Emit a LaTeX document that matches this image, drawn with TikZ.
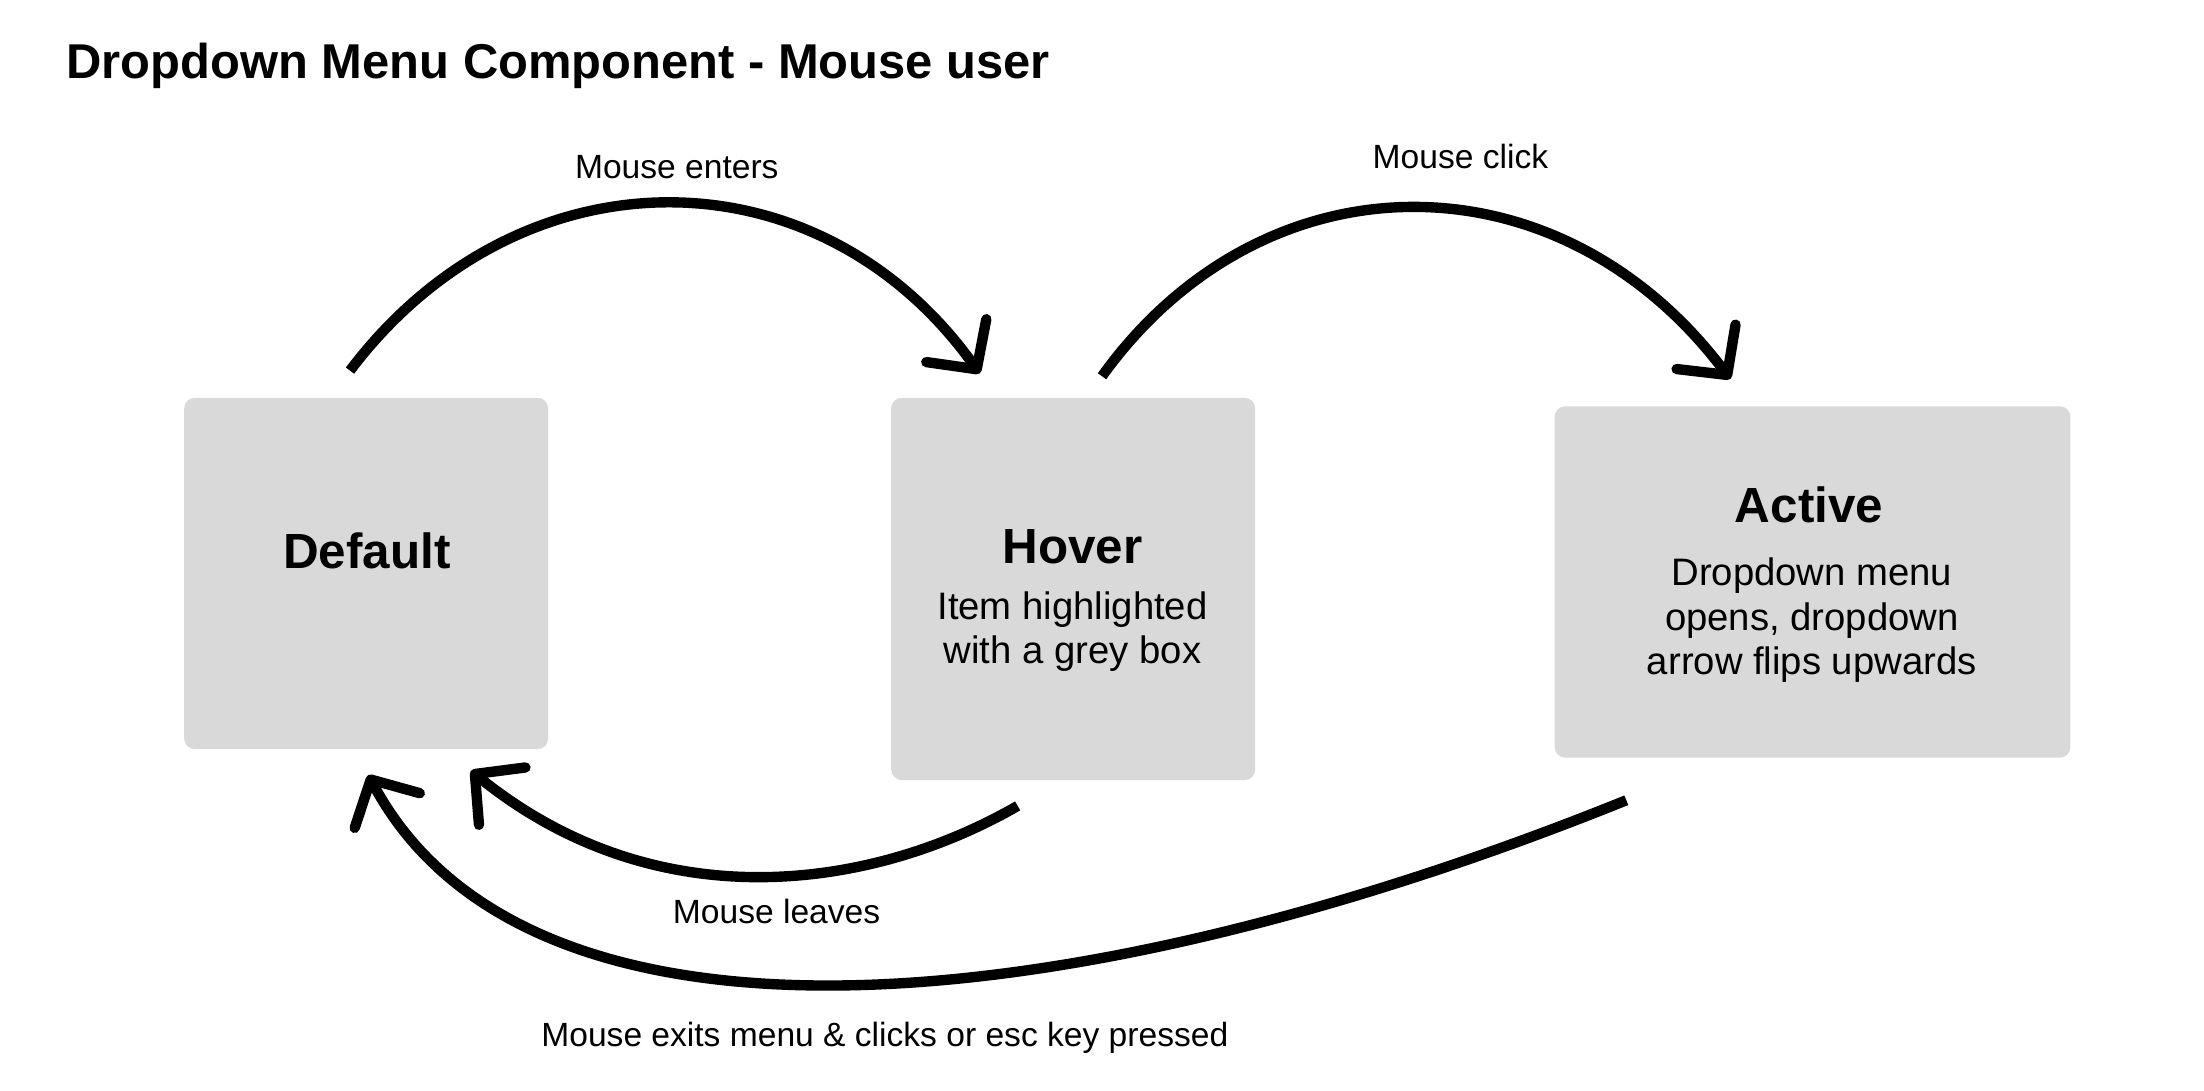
\documentclass[tikz,border=0pt]{standalone}
\usepackage{fontspec}
\setmainfont{Liberation Sans}
\usetikzlibrary{arrows.meta,calc,positioning}

\definecolor{boxgrey}{HTML}{D9D9D9}

\tikzset{
  state/.style={fill=boxgrey,rounded corners=0.15cm,inner sep=0pt},
  statename/.style={font=\fontsize{20}{24}\selectfont\bfseries,anchor=base,inner sep=0pt},
  statetext/.style={font=\fontsize{15.5}{17.9}\selectfont,align=center,anchor=base,inner sep=0pt},
  flowlabel/.style={font=\fontsize{13.6}{16}\selectfont,anchor=base,inner sep=0pt},
  flow/.style={line width=4.2pt,-{Straight Barb[length=0.5cm,width=1.05cm,round]}}
}

\begin{document}
\begin{tikzpicture}[x=0.02cm,y=-0.02cm]

\useasboundingbox (0,0) rectangle (1568,775.5);

\node[font=\fontsize{19.8}{24}\selectfont\bfseries,anchor=base west,inner sep=0pt]
   (title) at (47,55.5) {Dropdown Menu Component - Mouse user};

% states
\node[state,minimum width=5.18cm,minimum height=5.00cm] (default) at ( 260.5,408) {};
\node[state,minimum width=5.18cm,minimum height=5.44cm] (hover)   at ( 763.5,419) {};
\node[state,minimum width=7.34cm,minimum height=5.00cm] (active)  at (1289.5,414) {};

\node[statename] (default-name) at ( 261,404.5) {Default};
\node[statename] (hover-name)   at ( 763,400.6) {Hover};
\node[statename] (active-name)  at (1287,371.9) {Active};

% base = last line
\node[statetext] (hover-text)  at ( 763,472.3) {Item highlighted\\with a grey box};
\node[statetext] (active-text) at (1289,479.7) {Dropdown menu\\opens, dropdown\\arrow flips upwards};

% free ends of the arrows
\coordinate (e1) at ($(default.north)+( -11.5,-19)$);
\coordinate (e2) at ($(hover.north)  +( -66.5,-17)$);
\coordinate (c1) at ($(hover.north)  +(  20.5,-15)$);
\coordinate (c2) at ($(active.north) +( -58.5,-19)$);
\coordinate (l1) at ($(hover.south)  +( -39.5, 18)$);
\coordinate (l2) at ($(default.south)+(  74.5, 15)$);
\coordinate (x1) at ($(active.south) +(-132.5, 30)$);
\coordinate (x2) at ($(default.south)+(   1.5, 18)$);

\draw[flow] (e1) .. controls +( 120,-159) and +(-115,-161) .. (e2);
\draw[flow] (c1) .. controls +( 115,-160) and +(-122,-162) .. (c2);
\draw[flow] (l1) .. controls +(-104,  60) and +( 132, 107) .. (l2);
\draw[flow] (x1) .. controls +(-399, 161) and +( 113, 212) .. (x2);

\node[flowlabel] (enters) at ($(e1)!0.5!(e2)+(  8.5,-137.4)$) {Mouse enters};
\node[flowlabel] (click)  at ($(c1)!0.5!(c2)+( 31.5,-148.8)$) {Mouse click};
\node[flowlabel] (leaves) at ($(l1)!0.5!(l2)+( 23.0,  96.3)$) {Mouse leaves};
\node[flowlabel] (exits)  at ($(x1)!0.5!(x2)+(-80.0, 184.3)$) {Mouse exits menu \& clicks or esc key pressed};

\end{tikzpicture}
\end{document}
